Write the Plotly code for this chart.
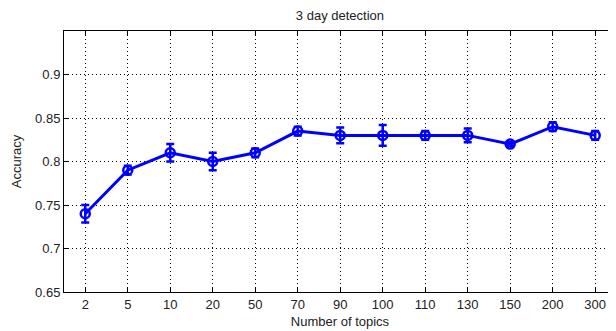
import plotly.graph_objects as go

categories = ["2", "5", "10", "20", "50", "70", "90", "100", "110", "130", "150", "200", "300"]
accuracy = [0.74, 0.79, 0.81, 0.80, 0.81, 0.835, 0.83, 0.83, 0.83, 0.83, 0.82, 0.84, 0.83]
errors = [0.01, 0.005, 0.01, 0.01, 0.005, 0.005, 0.009, 0.012, 0.005, 0.008, 0.002, 0.005, 0.005]
y_ticks = [0.65, 0.7, 0.75, 0.8, 0.85, 0.9]
y_tick_labels = ["0.65", "0.7", "0.75", "0.8", "0.85", "0.9"]

idx = list(range(len(categories)))
FONT = "Liberation Sans, Arial, Helvetica, sans-serif"

fig = go.Figure()
fig.add_trace(go.Scatter(
    x=idx, y=accuracy,
    mode="lines+markers",
    line=dict(color="#0000ff", width=3),
    marker=dict(symbol="circle-open", size=9, color="#0000ff", line=dict(width=2.5, color="#0000ff")),
    error_y=dict(type="data", array=errors, visible=True, color="#0000ff", thickness=2.5, width=4),
    showlegend=False,
))

axis_common = dict(
    showline=True, linecolor="black", linewidth=1, mirror="ticks",
    ticks="inside", ticklen=5, tickcolor="black",
    showgrid=True, gridcolor="black", gridwidth=0.6, griddash="1px,3px",
    zeroline=False,
    tickfont=dict(family=FONT, size=13, color="#222"),
)

fig.update_layout(
    width=608, height=323,
    margin=dict(l=56, r=0, t=23, b=39),
    paper_bgcolor="white", plot_bgcolor="white",
    title=dict(text="3 day detection", x=0.546, xanchor="center", y=0.978, yanchor="middle",
               font=dict(family=FONT, size=13, color="#222")),
    xaxis=dict(range=[-0.5, 12.49], tickmode="array", tickvals=idx, ticktext=categories,
               title=dict(text="Number of topics", standoff=6,
                          font=dict(family=FONT, size=13, color="#222")),
               **axis_common),
    yaxis=dict(range=[0.65, 0.95], tickmode="array", tickvals=y_ticks, ticktext=y_tick_labels,
               title=dict(text="Accuracy", standoff=10,
                          font=dict(family=FONT, size=13, color="#222")),
               **axis_common),
)

fig.write_html("out.html")
